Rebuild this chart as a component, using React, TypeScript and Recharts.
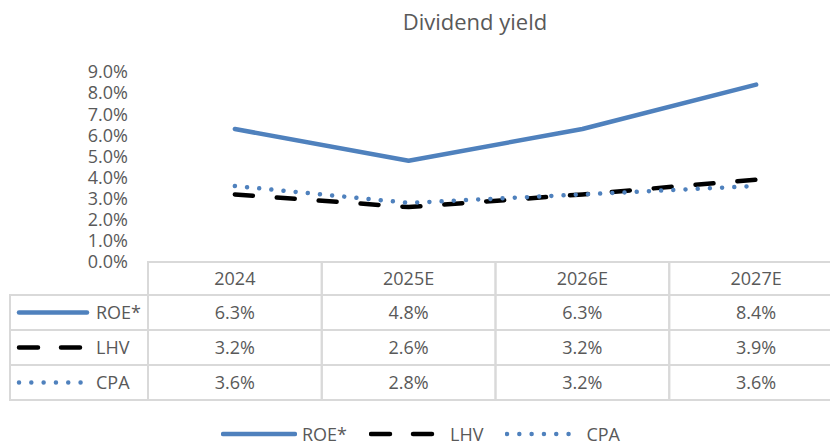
import React from 'react';
import { LineChart, Line, XAxis, YAxis, Legend } from 'recharts';

// ---- data ----
const TITLE = 'Dividend yield';
const CATEGORIES = ['2024', '2025E', '2026E', '2027E'];
const ROE = [6.3, 4.8, 6.3, 8.4];
const LHV = [3.2, 2.6, 3.2, 3.9];
const CPA = [3.6, 2.8, 3.2, 3.6];
const Y_TICKS = [0, 1, 2, 3, 4, 5, 6, 7, 8, 9];
const SERIES_NAMES = ['ROE*', 'LHV', 'CPA'];

// ---- style / layout ----
const W = 860;
const H = 446;
const M = { top: 72, right: 17, bottom: 0, left: 88 };
const Y_W = 60;
const HEADER_H = 33;
const ROW_H = 35;
const LEGEND_H = 46;
const BAND = (W - M.left - Y_W - M.right) / CATEGORIES.length;
const TXT = '#595959';
const GRID = '#D9D9D9';
const BLUE = '#4F81BD';
const FONT = "'Open Sans', sans-serif";
const FS = 18;

const SERIES = [
  { key: 'ROE', name: SERIES_NAMES[0], values: ROE, color: BLUE, width: 4.5, dash: undefined as string | undefined, legendDash: undefined as string | undefined },
  { key: 'LHV', name: SERIES_NAMES[1], values: LHV, color: '#000000', width: 4.5, dash: '18 24', legendDash: '19 23' },
  { key: 'CPA', name: SERIES_NAMES[2], values: CPA, color: BLUE, width: 4.5, dash: '0.01 12.2', legendDash: '0.01 12.3' },
];

const data = CATEGORIES.map((year, i) => ({ year, ROE: ROE[i], LHV: LHV[i], CPA: CPA[i] }));

const fmt = (v: number) => `${v.toFixed(1)}%`;

const Sample = ({ s, x1, x2, y }: any) => (
  <line
    x1={x1}
    x2={x2}
    y1={y}
    y2={y}
    stroke={s.color}
    strokeWidth={s.width}
    strokeLinecap="round"
    strokeDasharray={s.legendDash}
  />
);

const YTick = (props: any) => {
  const { x, y, payload } = props;
  return (
    <text x={x} y={y} dy="0.35em" textAnchor="end" fill={TXT} fontSize={FS} fontFamily={FONT}>
      {fmt(payload.value)}
    </text>
  );
};

const HeaderTick = (props: any) => {
  const { x, y, payload } = props;
  return (
    <g>
      <rect x={x - BAND / 2} y={y} width={BAND} height={HEADER_H} fill="none" stroke={GRID} strokeWidth={2} />
      <text x={x} y={y + HEADER_H / 2} dy="0.35em" textAnchor="middle" fill={TXT} fontSize={FS} fontFamily={FONT}>
        {payload.value}
      </text>
    </g>
  );
};

const makeRowTick = (s: (typeof SERIES)[number]) => (props: any) => {
  const { x, y, payload } = props;
  const idx = payload && payload.index != null ? payload.index : props.index;
  const cy = y + ROW_H / 2;
  return (
    <g>
      {idx === 0 && (
        <g>
          <rect x={10} y={y} width={x - BAND / 2 - 10} height={ROW_H} fill="none" stroke={GRID} strokeWidth={2} />
          <Sample s={s} x1={19} x2={87} y={cy} />
          <text x={96} y={cy} dy="0.35em" textAnchor="start" fill={TXT} fontSize={FS} fontFamily={FONT}>
            {s.name}
          </text>
        </g>
      )}
      <rect x={x - BAND / 2} y={y} width={BAND} height={ROW_H} fill="none" stroke={GRID} strokeWidth={2} />
      <text x={x} y={cy} dy="0.35em" textAnchor="middle" fill={TXT} fontSize={FS} fontFamily={FONT}>
        {fmt(s.values[idx])}
      </text>
    </g>
  );
};

const RowTicks = SERIES.map((s) => makeRowTick(s));

const renderLegend = () => (
  <div style={{ height: LEGEND_H, position: 'relative', fontFamily: FONT }}>
    <div style={{ position: 'absolute', top: 22, left: 221, height: 24, display: 'flex', alignItems: 'center', whiteSpace: 'nowrap' }}>
      {SERIES.map((s) => (
        <div key={s.key} style={{ display: 'flex', alignItems: 'center', marginRight: 22 }}>
          <svg width={76} height={12} style={{ display: 'block' }}>
            <Sample s={s} x1={2} x2={74} y={6} />
          </svg>
          <span style={{ marginLeft: 5, fontSize: FS, color: TXT, lineHeight: '24px' }}>{s.name}</span>
        </div>
      ))}
    </div>
  </div>
);

export default function App() {
  return (
    <div
      style={{
        position: 'absolute',
        left: 0,
        top: 0,
        width: 830,
        height: 446,
        overflow: 'hidden',
        background: '#ffffff',
        fontFamily: FONT,
      }}
    >
      <div
        style={{
          position: 'absolute',
          left: 0,
          top: 10,
          width: 950,
          textAlign: 'center',
          fontSize: 22,
          lineHeight: '22px',
          color: TXT,
          zIndex: 2,
        }}
      >
        {TITLE}
      </div>
      <LineChart width={W} height={H} data={data} margin={M} style={{ fontFamily: FONT }}>
        <XAxis
          xAxisId="hdr"
          dataKey="year"
          type="category"
          scale="band"
          height={HEADER_H}
          axisLine={false}
          tickLine={false}
          tickSize={0}
          tickMargin={0}
          interval={0}
          tick={<HeaderTick />}
        />
        {SERIES.map((s, i) => {
          const T = RowTicks[i];
          return (
            <XAxis
              key={s.key}
              xAxisId={`row${i}`}
              dataKey="year"
              type="category"
              scale="band"
              height={ROW_H}
              axisLine={false}
              tickLine={false}
              tickSize={0}
              tickMargin={0}
              interval={0}
              tick={<T />}
            />
          );
        })}
        <YAxis
          domain={[0, 9]}
          ticks={Y_TICKS}
          width={Y_W}
          axisLine={false}
          tickLine={false}
          tickSize={0}
          tickMargin={20}
          interval={0}
          tick={<YTick />}
        />
        {SERIES.map((s) => (
          <Line
            key={s.key}
            xAxisId="hdr"
            dataKey={s.key}
            name={s.name}
            stroke={s.color}
            strokeWidth={s.width}
            strokeDasharray={s.dash}
            strokeLinecap="round"
            strokeLinejoin="round"
            dot={false}
            activeDot={false}
            isAnimationActive={false}
            type="linear"
          />
        ))}
        <Legend
          verticalAlign="bottom"
          align="left"
          content={renderLegend}
          wrapperStyle={{ left: 0, bottom: 0, width: W, height: LEGEND_H }}
        />
      </LineChart>
    </div>
  );
}
